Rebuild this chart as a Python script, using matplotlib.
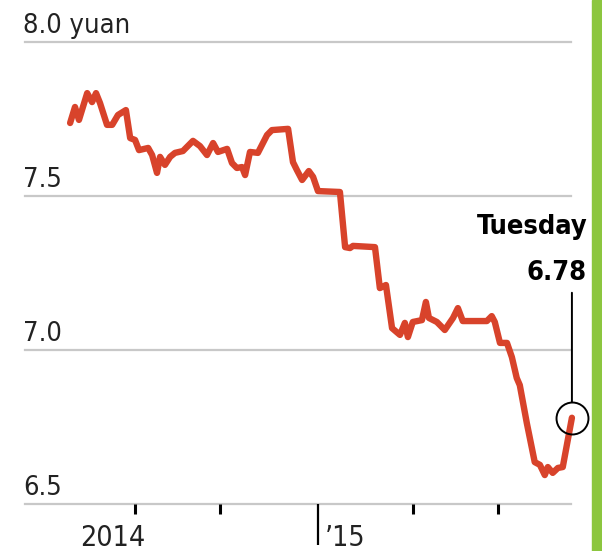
import matplotlib.pyplot as plt
from matplotlib.patches import Rectangle

plt.rcParams['font.family'] = ['DejaVu Sans']
plt.rcParams['font.stretch'] = 'condensed'

# x in months from Jan 2014 (12 = Jan 2015), y = yuan
months = [3.87, 4.03, 4.16, 4.43, 4.59, 4.72, 4.85, 5.08, 5.25, 5.44,
          5.70, 5.84, 6.00, 6.13, 6.43, 6.56, 6.72, 6.82, 6.98, 7.15,
          7.31, 7.57, 7.90, 8.13, 8.36, 8.56, 8.72, 9.02, 9.18, 9.34,
          9.51, 9.61, 9.77, 10.03, 10.33, 10.49, 11.02, 11.18, 11.31, 11.48,
          11.70, 11.84, 12.00, 12.72, 12.89, 13.05, 13.15, 13.87, 14.03, 14.23,
          14.43, 14.69, 14.85, 14.95, 15.11, 15.41, 15.54, 15.64, 15.90, 16.16,
          16.43, 16.59, 16.75, 17.54, 17.70, 17.80, 17.97, 18.20, 18.36, 18.52,
          18.62, 18.85, 19.11, 19.28, 19.44, 19.54, 19.70, 19.87, 20.03, 20.33]
rate = [7.737, 7.789, 7.747, 7.834, 7.805, 7.834, 7.802, 7.731, 7.731, 7.763,
        7.779, 7.688, 7.682, 7.649, 7.656, 7.633, 7.575, 7.627, 7.601, 7.627,
        7.640, 7.646, 7.679, 7.662, 7.633, 7.672, 7.643, 7.653, 7.607, 7.591,
        7.594, 7.568, 7.643, 7.640, 7.698, 7.714, 7.718, 7.610, 7.584, 7.552,
        7.581, 7.562, 7.516, 7.513, 7.334, 7.331, 7.338, 7.334, 7.201, 7.211,
        7.071, 7.049, 7.088, 7.042, 7.091, 7.097, 7.156, 7.104, 7.091, 7.065,
        7.104, 7.136, 7.094, 7.094, 7.110, 7.091, 7.023, 7.023, 6.977, 6.909,
        6.886, 6.763, 6.636, 6.627, 6.594, 6.620, 6.601, 6.617, 6.620, 6.780]

y_levels = [6.5, 7.0, 7.5, 8.0]
y_labels = ['6.5', '7.0', '7.5', '8.0 yuan']
year_tick = 12.0
minor_ticks = [6.0, 8.79, 15.11, 17.9]
x_labels = ['2014', '\u201915']

fig = plt.figure(figsize=(6.02, 5.51), dpi=100)
ax = fig.add_axes([25 / 602, 47 / 551, 546 / 602, 462 / 551])

for lvl, lab in zip(y_levels, y_labels):
    ax.axhline(lvl, color='#c8c8c8', lw=1.6, clip_on=False, zorder=1)
    ax.annotate(lab, xy=(0, lvl), xycoords=('axes fraction', 'data'),
                xytext=(-1.5, 6.5), textcoords='offset points',
                ha='left', va='baseline', fontsize=19.5, color='#222222')

ax.plot(months, rate, color='#d8432b', lw=4.6, solid_joinstyle='round',
        solid_capstyle='round', clip_on=False, zorder=3)

# Tuesday marker
ax.plot(months[-1], rate[-1], 'o', ms=23, mfc='none', mec='black', mew=1.4,
        clip_on=False, zorder=4)
ax.annotate('', xy=(months[-1], rate[-1]), xytext=(0, 90), textcoords='offset points',
            annotation_clip=False,
            arrowprops=dict(arrowstyle='-', color='black', lw=1.4, shrinkA=0, shrinkB=11.5))
ax.annotate('Tuesday', xy=(months[-1], rate[-1]), xytext=(11, 132),
            textcoords='offset points', ha='right', va='baseline',
            fontsize=19.5, fontweight='bold', annotation_clip=False)
ax.annotate(f'{rate[-1]:.2f}', xy=(months[-1], rate[-1]), xytext=(10.5, 99.5),
            textcoords='offset points', ha='right', va='baseline',
            fontsize=19.5, fontweight='bold', annotation_clip=False)

ax.set_xlim(2.39, 20.3)
ax.set_ylim(6.5, 8.0)
for s in ax.spines.values():
    s.set_visible(False)
ax.set_yticks([])
ax.set_xticks([year_tick])
ax.set_xticks(minor_ticks, minor=True)
ax.tick_params(axis='x', which='major', length=29.5, width=1.6, color='black', labelbottom=False)
ax.tick_params(axis='x', which='minor', length=7, width=2.2, color='black')

ax.annotate(x_labels[0], xy=(minor_ticks[0] - 0.72, 0), xycoords=('data', 'axes fraction'),
            xytext=(0, -30.5), textcoords='offset points', ha='center', va='baseline',
            fontsize=20.5, color='#222222')
ax.annotate(x_labels[1], xy=(year_tick, 0), xycoords=('data', 'axes fraction'),
            xytext=(5, -30.5), textcoords='offset points', ha='left', va='baseline',
            fontsize=20.5, color='#222222')

fig.patches.append(Rectangle((592 / 602, 0), 10 / 602, 1, transform=fig.transFigure,
                             color='#8cc63f', zorder=0))

fig.savefig('out.png', dpi=100)
